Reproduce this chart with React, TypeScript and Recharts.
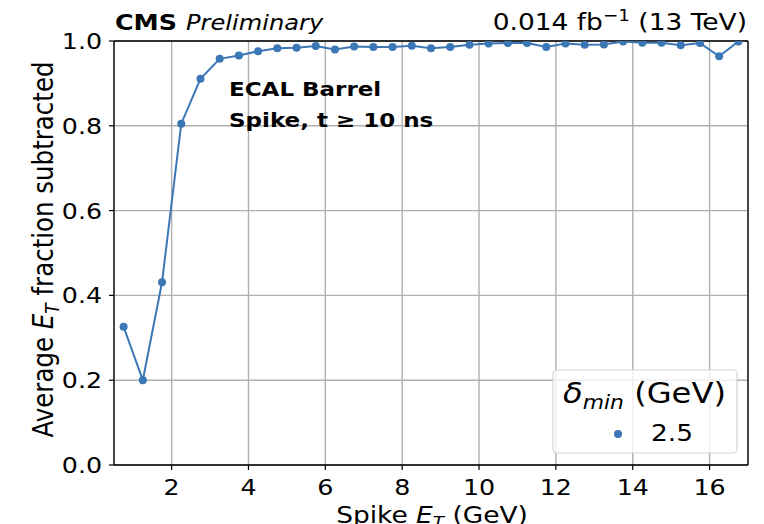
import React from 'react';
import { LineChart, Line, XAxis, YAxis, CartesianGrid, ReferenceLine, Legend } from 'recharts';

const spikeEt = [
  0.75, 1.25, 1.75, 2.25, 2.75, 3.25, 3.75, 4.25, 4.75, 5.25, 5.75,
  6.25, 6.75, 7.25, 7.75, 8.25, 8.75, 9.25, 9.75, 10.25, 10.75, 11.25,
  11.75, 12.25, 12.75, 13.25, 13.75, 14.25, 14.75, 15.25, 15.75, 16.25, 16.75,
];
const fractionSubtracted = [
  0.326, 0.200, 0.431, 0.805, 0.911, 0.958, 0.966, 0.976, 0.983, 0.984, 0.988,
  0.980, 0.987, 0.986, 0.986, 0.989, 0.983, 0.986, 0.991, 0.994, 0.995, 0.995,
  0.986, 0.994, 0.991, 0.992, 0.999, 0.996, 0.996, 0.990, 0.995, 0.964, 0.999,
];
const xTicks = [2, 4, 6, 8, 10, 12, 14, 16];
const yTicks = [0, 0.2, 0.4, 0.6, 0.8, 1.0];
const seriesName = '2.5';

const data = spikeEt.map((x, i) => ({ x, y: fractionSubtracted[i] }));

const FONT = "'DejaVu Sans', sans-serif";
const SX = 1.15;
const COLOR = '#3b77b5';

const XTick = (props: any) => {
  const { x, y, payload } = props;
  return (
    <g transform={`translate(${x},${y}) scale(${SX},1)`}>
      <text x={0} y={16} textAnchor="middle" fontSize={22} fontFamily={FONT} fill="#000">
        {payload.value}
      </text>
    </g>
  );
};

const YTick = (props: any) => {
  const { x, y, payload } = props;
  return (
    <g transform={`translate(${x},${y}) scale(${SX},1)`}>
      <text x={0} y={8} textAnchor="end" fontSize={22} fontFamily={FONT} fill="#000">
        {Number(payload.value).toFixed(1)}
      </text>
    </g>
  );
};

const renderLegend = (props: any) => {
  const item = props.payload && props.payload[0];
  const color = item ? item.color : COLOR;
  const label = item ? item.value : seriesName;
  return (
    <svg width={186} height={85} style={{ display: 'block', overflow: 'visible' }}>
      <rect x={1} y={1} width={184} height={83} rx={4} fill="#fff" fillOpacity={0.8} stroke="#d4d4d4" strokeWidth={1.2} />
      <g transform={`translate(11,34) scale(${SX},1)`}>
        <text x={0} y={0} fontSize={28} fontFamily={FONT} fill="#000">
          <tspan fontStyle="italic">δ</tspan>
          <tspan fontStyle="italic" fontSize={19} dy={6}>min</tspan>
          <tspan dy={-6}>{' (GeV)'}</tspan>
        </text>
      </g>
      <circle cx={66} cy={65} r={4} fill={color} />
      <g transform={`translate(99,72) scale(${SX},1)`}>
        <text x={0} y={0} fontSize={23} fontFamily={FONT} fill="#000">{label}</text>
      </g>
    </svg>
  );
};

export default function App() {
  return (
    <div style={{ position: 'absolute', left: 0, top: 0, width: 764, height: 524, background: '#fff', overflow: 'hidden' }}>
      <LineChart
        width={764}
        height={524}
        data={data}
        margin={{ top: 41, right: 16, bottom: 0, left: 0 }}
      >
        <CartesianGrid stroke="#b0b0b0" strokeWidth={1.4} />
        <XAxis
          dataKey="x"
          type="number"
          domain={[0.5, 17]}
          ticks={xTicks}
          allowDataOverflow
          height={59}
          tickSize={5}
          tickMargin={9}
          tick={<XTick />}
          axisLine={{ stroke: '#000', strokeWidth: 1.3 }}
          tickLine={{ stroke: '#000', strokeWidth: 1.2 }}
        />
        <YAxis
          dataKey="y"
          type="number"
          domain={[0, 1]}
          ticks={yTicks}
          allowDataOverflow
          width={114}
          tickSize={5}
          tickMargin={7}
          tick={<YTick />}
          axisLine={{ stroke: '#000', strokeWidth: 1.3 }}
          tickLine={{ stroke: '#000', strokeWidth: 1.2 }}
        />
        <ReferenceLine y={1} stroke="#000" strokeWidth={1.3} ifOverflow="extendDomain" />
        <ReferenceLine x={17} stroke="#000" strokeWidth={1.3} ifOverflow="extendDomain" />
        <Line
          name={seriesName}
          type="linear"
          dataKey="y"
          stroke={COLOR}
          strokeWidth={2}
          dot={{ r: 4, fill: COLOR, stroke: COLOR, strokeWidth: 0 }}
          isAnimationActive={false}
        />
        <Legend
          layout="vertical"
          align="center"
          verticalAlign="middle"
          content={renderLegend}
          wrapperStyle={{ position: 'absolute', left: 552, top: 369, width: 186, height: 85 }}
        />
      </LineChart>
      <svg width={764} height={524} style={{ position: 'absolute', left: 0, top: 0, pointerEvents: 'none' }}>
        <g transform={`translate(115,30) scale(${SX},1)`}>
          <text x={0} y={0} fontSize={22} fontFamily={FONT} fill="#000">
            <tspan fontWeight="bold">CMS</tspan>
          </text>
        </g>
        <g transform={`translate(186,30) scale(${SX},1)`}>
          <text x={0} y={0} fontSize={21} fontFamily={FONT} fontStyle="italic" fill="#000">Preliminary</text>
        </g>
        <g transform={`translate(747,30) scale(${SX},1)`}>
          <text x={0} y={0} fontSize={23} fontFamily={FONT} textAnchor="end" fill="#000">
            <tspan>0.014 fb</tspan>
            <tspan fontSize={16} dy={-9}>−1</tspan>
            <tspan dy={9}>{' (13 TeV)'}</tspan>
          </text>
        </g>
        <g transform={`translate(229,96) scale(${SX},1)`}>
          <text x={0} y={0} fontSize={20} fontWeight="bold" fontFamily={FONT} fill="#000">ECAL Barrel</text>
        </g>
        <g transform={`translate(229,127) scale(${SX},1)`}>
          <text x={0} y={0} fontSize={20} fontWeight="bold" fontFamily={FONT} fill="#000">Spike, t ≥ 10 ns</text>
        </g>
        <g transform={`translate(53,249.5) scale(${SX},1) rotate(-90)`}>
          <text x={0} y={0} fontSize={24.5} fontFamily={FONT} textAnchor="middle" fill="#000">
            <tspan>{'Average '}</tspan>
            <tspan fontStyle="italic">E</tspan>
            <tspan fontStyle="italic" fontSize={17} dy={5}>T</tspan>
            <tspan dy={-5}>{' fraction subtracted'}</tspan>
          </text>
        </g>
        <g transform={`translate(432,523) scale(${SX},1)`}>
          <text x={0} y={0} fontSize={23} fontFamily={FONT} textAnchor="middle" fill="#000">
            <tspan>{'Spike '}</tspan>
            <tspan fontStyle="italic">E</tspan>
            <tspan fontStyle="italic" fontSize={16} dy={5}>T</tspan>
            <tspan dy={-5}>{' (GeV)'}</tspan>
          </text>
        </g>
      </svg>
    </div>
  );
}
